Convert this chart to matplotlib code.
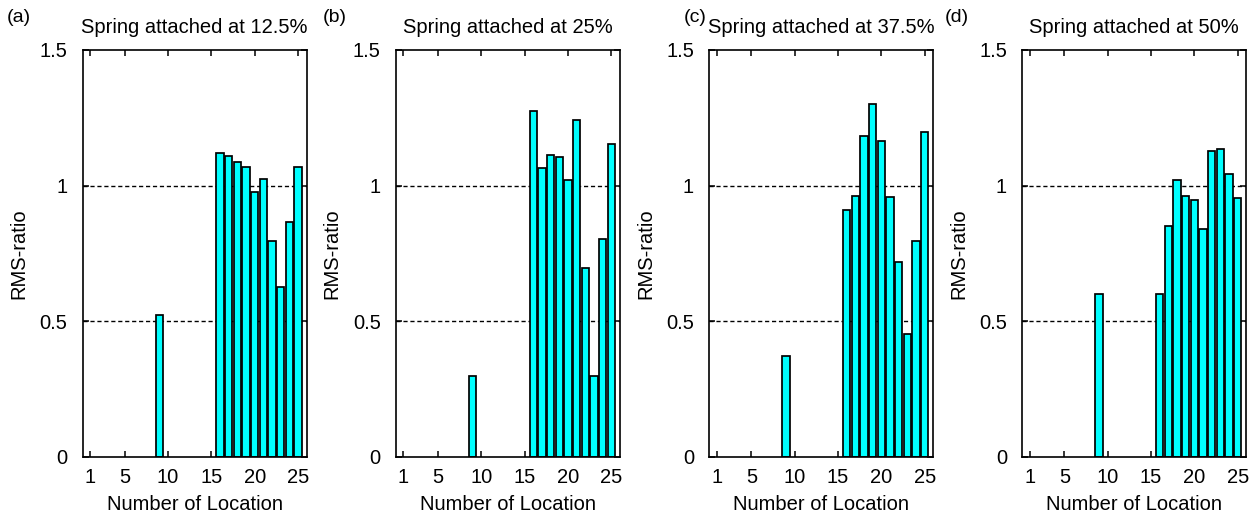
import matplotlib
matplotlib.use("Agg")
import matplotlib.pyplot as plt
import numpy as np

plt.rcParams['font.family'] = ['Liberation Sans', 'DejaVu Sans']

locations = [9, 16, 17, 18, 19, 20, 21, 22, 23, 24, 25]

rms_125 = [0.525, 1.121, 1.110, 1.089, 1.070, 0.977, 1.025, 0.795, 0.627, 0.867, 1.070]
rms_250 = [0.300, 1.276, 1.066, 1.114, 1.104, 1.022, 1.242, 0.697, 0.300, 0.803, 1.152]
rms_375 = [0.373, 0.912, 0.963, 1.182, 1.300, 1.166, 0.959, 0.718, 0.455, 0.797, 1.199]
rms_500 = [0.599, 0.599, 0.852, 1.021, 0.963, 0.946, 0.839, 1.126, 1.136, 1.043, 0.953]

panel_tags = ['(a)', '(b)', '(c)', '(d)']
titles = ['Spring attached at 12.5%', 'Spring attached at 25%',
          'Spring attached at 37.5%', 'Spring attached at 50%']
series = [rms_125, rms_250, rms_375, rms_500]

x_ticks = [1, 5, 10, 15, 20, 25]
y_ticks = [0, 0.5, 1, 1.5]
y_tick_labels = ['0', '0.5', '1', '1.5']

W, H = 1260, 522
fig = plt.figure(figsize=(W / 100, H / 100), dpi=100)

lefts_px = [82.7, 396.0, 709.3, 1022.3]
tag_x_px = [7, 323, 684, 945]
ax_w_px, ax_top_px, ax_bot_px = 224.0, 50.0, 457.0
fs = 14.5

for i in range(4):
    ax = fig.add_axes([lefts_px[i] / W, (H - ax_bot_px) / H,
                       ax_w_px / W, (ax_bot_px - ax_top_px) / H])
    for yv in (0.5, 1.0):
        ax.axhline(yv, color='black', lw=1.0, dashes=(3, 2), zorder=1)
    ax.bar(locations, series[i], width=0.84, color='#00FFFF',
           edgecolor='black', linewidth=1.25, zorder=2)
    ax.set_xlim(0.15, 26)
    ax.set_ylim(0, 1.5)
    ax.set_xticks(x_ticks)
    ax.set_yticks(y_ticks)
    ax.set_yticklabels(y_tick_labels)
    ax.tick_params(direction='in', top=True, right=True, length=4,
                   width=1.1, labelsize=fs)
    ax.tick_params(axis='y', pad=11)
    ax.tick_params(axis='x', pad=8)
    for s in ax.spines.values():
        s.set_linewidth(1.2)
    ax.set_xlabel('Number of Location', fontsize=fs, labelpad=6)
    ax.set_ylabel('RMS-ratio', fontsize=fs, labelpad=8)
    ax.set_title(titles[i], fontsize=fs, pad=12)
    fig.text(tag_x_px[i] / W, 1 - 17 / H, panel_tags[i], fontsize=fs - 0.5,
             ha='left', va='center')

fig.savefig('out.png', dpi=100)
